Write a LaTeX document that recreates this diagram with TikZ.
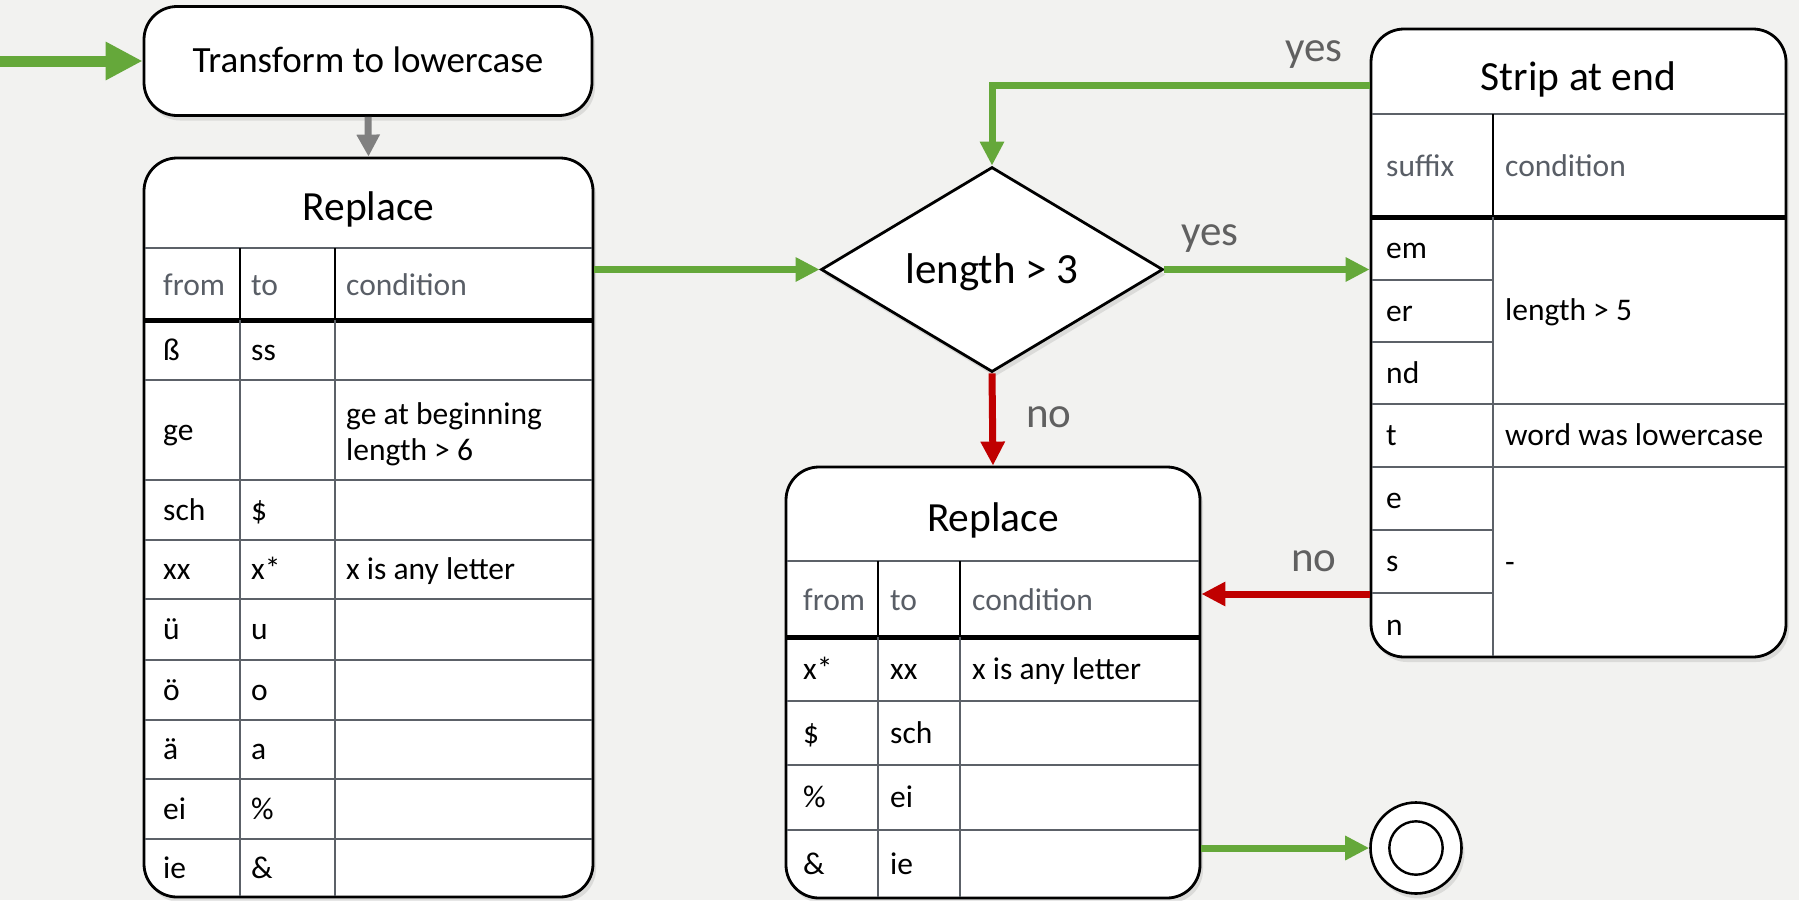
\documentclass[tikz,border=0pt]{standalone}
\usepackage{fontspec}
\setmainfont{Carlito}
\usetikzlibrary{arrows.meta,shapes.geometric,shadows}
\definecolor{bg}{RGB}{242,242,240}
\definecolor{ogreen}{RGB}{101,168,58}
\definecolor{ored}{RGB}{192,0,0}
\definecolor{agray}{RGB}{128,128,128}
\definecolor{lgray}{RGB}{92,97,104}
\definecolor{tgray}{RGB}{89,94,102}
\definecolor{lblgray}{RGB}{96,96,96}
\begin{document}
\begin{tikzpicture}[x=1pt,y=-1pt,
  box/.style={draw=black,line width=2.8pt,fill=white,rounded corners=33pt,inner sep=0pt,
    drop shadow={shadow xshift=3pt,shadow yshift=-5pt,opacity=0.2}},
  dia/.style={diamond,draw=black,line width=2.8pt,fill=white,inner sep=0pt,aspect=1.67,
    minimum width=342pt,minimum height=205pt,text height=28pt,text depth=0pt,
    font=\fontsize{43}{48}\selectfont,
    drop shadow={shadow xshift=3pt,shadow yshift=-5pt,opacity=0.2}},
  ttl/.style={inner sep=0pt,text height=26.7pt,text depth=0pt,font=\fontsize{41.5}{46}\selectfont},
  cell/.style={anchor=west,inner sep=0pt,text height=20.3pt,text depth=0pt,font=\fontsize{31.5}{36}\selectfont},
  hcell/.style={cell,text=tgray},
  lbl/.style={inner sep=0pt,text height=20pt,text depth=0pt,text=lblgray,font=\fontsize{43}{48}\selectfont},
  tline/.style={draw=lgray,line width=2.6pt},
  thline/.style={draw=black,line width=5pt},
  hcol/.style={draw=black,line width=2.6pt},
  garrow/.style={draw=ogreen,line width=7pt,-{Triangle[length=24pt,width=23pt]}},
  inarrow/.style={draw=ogreen,line width=11pt,-{Triangle[length=37pt,width=36pt]}},
  rarrow/.style={draw=ored,line width=7pt,-{Triangle[length=24pt,width=23pt]}},
  grarrow/.style={draw=agray,line width=7pt,-{Triangle[length=22pt,width=22pt]}}
]
\useasboundingbox (0,0) rectangle (1799,900);
\fill[bg] (0,0) rectangle (1799,900);

% ---------- boxes ----------
\node[box,minimum width=448pt,minimum height=109pt,text height=23.6pt,text depth=0pt,
  font=\fontsize{37}{42}\selectfont] (T) at (368,61) {Transform to lowercase};
\node[box,minimum width=449pt,minimum height=739pt] (R1) at (368.5,527.5) {};
\node[dia] (D) at (992,269.5) {length > 3};
\node[box,minimum width=415pt,minimum height=628pt] (S) at (1578.5,343) {};
\node[box,minimum width=414pt,minimum height=431pt] (R2) at (993,682.5) {};
\node[circle,draw=black,line width=2.6pt,fill=white,minimum size=91pt,inner sep=0pt,
  drop shadow={shadow xshift=3pt,shadow yshift=-5pt,opacity=0.2}] (E) at (1416,848) {};
\node[circle,draw=black,line width=2.4pt,minimum size=53.4pt,inner sep=0pt] (Ei) at (E.center) {};

% ---------- Replace 1 table ----------
\draw[tline] (145.4,248) -- (591.6,248);
\draw[thline] (145.4,320) -- (591.6,320);
\foreach \yy in {380,480,540,599,660,720,779,839}
  \draw[tline] (145.4,\yy) -- (591.6,\yy);
\draw[hcol] (240,248) -- (240,320);
\draw[hcol] (335,248) -- (335,320);
\draw[tline] (240,320) -- (240,895.6);
\draw[tline] (335,320) -- (335,895.6);
\node[ttl] (R1t) at (368.5,207) {Replace};
\node[hcell] (R1h1) at (163,285) {from};
\node[hcell] (R1h2) at (251,285) {to};
\node[hcell] (R1h3) at (346,285) {condition};
\node[cell] (R1a1) at (163,350) {ß};
\node[cell] (R1b1) at (251,350) {ss};
\node[cell] (R1a2) at (163,430) {ge};
\node[cell] (R1c2a) at (346,414) {ge at beginning};
\node[cell] (R1c2b) at (346,450) {length > 6};
\node[cell] (R1a3) at (163,510) {sch};
\node[cell] (R1b3) at (251,510) {\$};
\node[cell] (R1a4) at (163,569.5) {xx};
\node[cell] (R1b4) at (251,569.5) {x*};
\node[cell] (R1c4) at (346,569.5) {x is any letter};
\node[cell] (R1a5) at (163,629.5) {ü};
\node[cell] (R1b5) at (251,629.5) {u};
\node[cell] (R1a6) at (163,690) {ö};
\node[cell] (R1b6) at (251,690) {o};
\node[cell] (R1a7) at (163,749.5) {ä};
\node[cell] (R1b7) at (251,749.5) {a};
\node[cell] (R1a8) at (163,809) {ei};
\node[cell] (R1b8) at (251,809) {\%};
\node[cell] (R1a9) at (163,868) {ie};
\node[cell] (R1b9) at (251,868) {\&};

% ---------- Strip table ----------
\draw[tline] (1372.4,114) -- (1784.6,114);
\draw[thline] (1372.4,217) -- (1784.6,217);
\draw[hcol] (1493,114) -- (1493,217);
\draw[tline] (1493,217) -- (1493,655.6);
\foreach \yy in {280,342,530,593}
  \draw[tline] (1372.4,\yy) -- (1493,\yy);
\foreach \yy in {404,467}
  \draw[tline] (1372.4,\yy) -- (1784.6,\yy);
\node[ttl] (St) at (1578.5,77) {Strip at end};
\node[hcell] (Sh1) at (1386,166.5) {suffix};
\node[hcell] (Sh2) at (1505,166.5) {condition};
\node[cell] (Sa1) at (1386,248.5) {em};
\node[cell] (Sa2) at (1386,311) {er};
\node[cell] (Sa3) at (1386,373) {nd};
\node[cell] (Sa4) at (1386,435.5) {t};
\node[cell] (Sa5) at (1386,498.5) {e};
\node[cell] (Sa6) at (1386,561.5) {s};
\node[cell] (Sa7) at (1386,625) {n};
\node[cell] (Sc1) at (1505,310.5) {length > 5};
\node[cell] (Sc2) at (1505,435.5) {word was lowercase};
\node[cell] (Sc3) at (1505,562) {-};

% ---------- Replace 2 table ----------
\draw[tline] (787.4,561) -- (1198.6,561);
\draw[thline] (787.4,637) -- (1198.6,637);
\foreach \yy in {701,765,830}
  \draw[tline] (787.4,\yy) -- (1198.6,\yy);
\draw[hcol] (878,561) -- (878,637);
\draw[hcol] (960,561) -- (960,637);
\draw[tline] (878,637) -- (878,896.6);
\draw[tline] (960,637) -- (960,896.6);
\node[ttl] (R2t) at (993,518) {Replace};
\node[hcell] (R2h1) at (803,600) {from};
\node[hcell] (R2h2) at (890,600) {to};
\node[hcell] (R2h3) at (972,600) {condition};
\node[cell] (R2a1) at (803,669) {x*};
\node[cell] (R2b1) at (890,669) {xx};
\node[cell] (R2c1) at (972,669) {x is any letter};
\node[cell] (R2a2) at (803,733) {\$};
\node[cell] (R2b2) at (890,733) {sch};
\node[cell] (R2a3) at (803,797.5) {\%};
\node[cell] (R2b3) at (890,797.5) {ei};
\node[cell] (R2a4) at (803,864) {\&};
\node[cell] (R2b4) at (890,864) {ie};

% ---------- connectors ----------
\coordinate (in) at (0,61);
\draw[inarrow] (in) -- (T.west);
\draw[grarrow] (T.south) -- (R1.north);
\draw[garrow] (D.west -| R1.east) -- (D.west);
\draw[garrow] (D.east) -- (D.east -| S.west);
\draw[garrow] (S.west |- 0,85) -| (D.north);
\draw[rarrow] (D.south) -- (R2.north);
\draw[rarrow] (S.west |- 0,594) -- (R2.east |- 0,594);
\draw[garrow] (R2.east |- E.west) -- (E.west);

% ---------- labels ----------
\node[lbl] (l1) at (1314,51) {yes};
\node[lbl] (l2) at (1210,235) {yes};
\node[lbl] (l3) at (1049,417) {no};
\node[lbl] (l4) at (1314,561) {no};
\end{tikzpicture}
\end{document}
